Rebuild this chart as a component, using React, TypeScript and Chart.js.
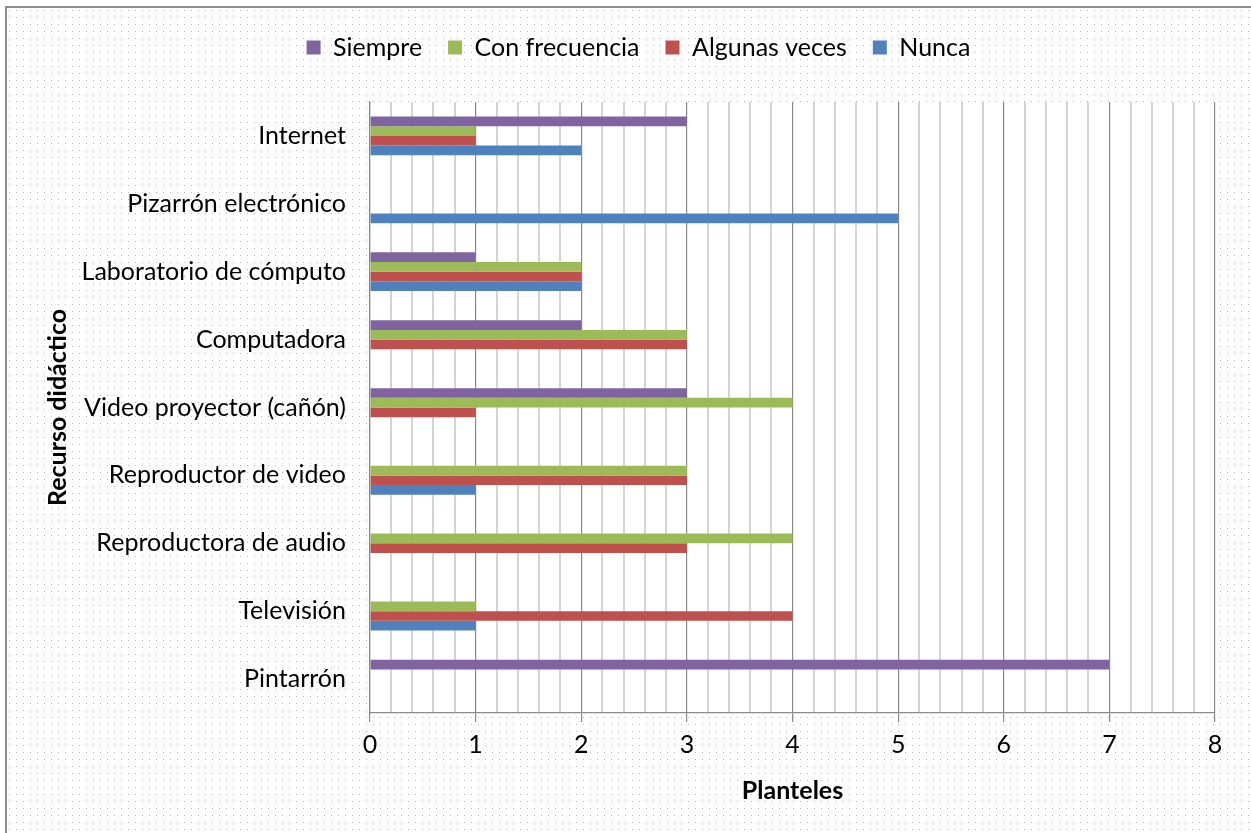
import React, { useEffect, useRef } from "react";
import { Chart, registerables } from "chart.js";

Chart.register(...registerables);

const categories = [
  "Internet",
  "Pizarrón electrónico",
  "Laboratorio de cómputo",
  "Computadora",
  "Video proyector (cañón)",
  "Reproductor de video",
  "Reproductora de audio",
  "Televisión",
  "Pintarrón",
];

const siempre = [3, 0, 1, 2, 3, 0, 0, 0, 7];
const conFrecuencia = [1, 0, 2, 3, 4, 3, 4, 1, 0];
const algunasVeces = [1, 0, 2, 3, 1, 3, 3, 4, 0];
const nunca = [2, 5, 2, 0, 0, 1, 0, 1, 0];

const seriesNames = ["Siempre", "Con frecuencia", "Algunas veces", "Nunca"];
const seriesColors = ["#8064A2", "#9BBB59", "#C0504D", "#4F81BD"];

const xMin = 0;
const xMax = 8;
const minorStep = 0.2;

const FONT = "Lato, 'Open Sans', sans-serif";
const FONT_SIZE = 25;

const isWhole = (v: number) => Math.abs(v - Math.round(v)) < 1e-6;

// Dotted sheet, outer frame and white plot area behind everything
const backdrop = {
  id: "backdrop",
  beforeDraw(chart: any) {
    const { ctx, width, height, chartArea } = chart;
    ctx.save();
    ctx.fillStyle = "#ffffff";
    ctx.fillRect(0, 0, width, height);
    ctx.fillStyle = "#b8b8b8";
    for (let y = 10; y < height; y += 7) {
      for (let x = 9; x < width; x += 7) {
        ctx.fillRect(x, y, 1, 1);
      }
    }
    ctx.strokeStyle = "#8c8c8c";
    ctx.lineWidth = 2;
    ctx.strokeRect(6, 7, width + 20, height + 20);
    ctx.fillStyle = "#ffffff";
    ctx.fillRect(
      chartArea.left,
      chartArea.top,
      chartArea.right - chartArea.left,
      chartArea.bottom - chartArea.top
    );
    ctx.restore();
  },
};

// Moves the legend row up and to the right once the layout is settled
const legendOffset = {
  id: "legendOffset",
  afterLayout(chart: any) {
    const lg = chart.legend;
    if (!lg) return;
    const dx = 31;
    const dy = -32;
    lg.left += dx;
    lg.right += dx;
    lg.top += dy;
    lg.bottom += dy;
  },
};

export default function App() {
  const canvasRef = useRef<HTMLCanvasElement | null>(null);

  useEffect(() => {
    const canvas = canvasRef.current;
    if (!canvas) return;
    const values = [siempre, conFrecuencia, algunasVeces, nunca];
    const chart = new Chart(canvas, {
      type: "bar",
      data: {
        labels: categories,
        datasets: seriesNames.map((name, i) => ({
          label: name,
          data: values[i],
          backgroundColor: seriesColors[i],
          borderWidth: 0,
          categoryPercentage: 0.57,
          barPercentage: 1,
        })),
      },
      options: {
        indexAxis: "y",
        responsive: false,
        animation: false,
        layout: { padding: { top: 41, right: 36, bottom: 0, left: 0 } },
        plugins: {
          legend: {
            position: "top",
            labels: {
              font: { family: FONT, size: FONT_SIZE },
              color: "#000000",
              boxWidth: 14,
              boxHeight: 14,
              padding: 26,
            },
          },
          tooltip: { enabled: false },
        },
        scales: {
          x: {
            type: "linear",
            min: xMin,
            max: xMax,
            ticks: {
              stepSize: minorStep,
              autoSkip: false,
              maxRotation: 0,
              padding: 8,
              color: "#000000",
              font: { family: FONT, size: FONT_SIZE },
              callback: (v: any) => (isWhole(Number(v)) ? String(Math.round(Number(v))) : ""),
            },
            grid: {
              drawTicks: true,
              tickLength: 9,
              color: (c: any) => (isWhole(c.tick.value) ? "#8a8a8a" : "#d4d4d4"),
              lineWidth: (c: any) => (isWhole(c.tick.value) ? 1.2 : 2),
              tickColor: (c: any) => (isWhole(c.tick.value) ? "#8a8a8a" : "rgba(0,0,0,0)"),
            },
            border: { display: true, color: "#8a8a8a", width: 1.2 },
            title: {
              display: true,
              text: "Planteles",
              color: "#000000",
              font: { family: FONT, size: FONT_SIZE, weight: "bold" },
              padding: { top: 0, bottom: 27 },
            },
            afterFit: (scale: any) => {
              scale.height = 120;
            },
          },
          y: {
            type: "category",
            grid: { display: false, drawTicks: false },
            border: { display: true, color: "#8a8a8a", width: 1.2 },
            ticks: {
              padding: 24,
              color: "#000000",
              font: { family: FONT, size: FONT_SIZE },
            },
            title: {
              display: true,
              text: "Recurso didáctico",
              color: "#000000",
              font: { family: FONT, size: FONT_SIZE, weight: "bold" },
              padding: { top: 43, bottom: 0 },
            },
            afterFit: (scale: any) => {
              scale.width = 370;
            },
          },
        },
      },
      plugins: [backdrop, legendOffset],
    } as any);
    return () => chart.destroy();
  }, []);

  return (
    <div style={{ position: "absolute", left: 0, top: 0, width: 1251, height: 833 }}>
      <canvas ref={canvasRef} width={1251} height={833} />
    </div>
  );
}
